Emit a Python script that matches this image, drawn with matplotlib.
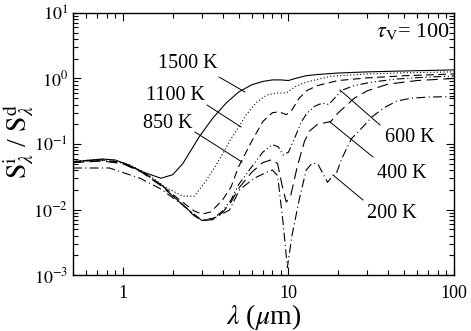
import matplotlib
matplotlib.use("Agg")
import matplotlib.pyplot as plt
from matplotlib.ticker import LogLocator, FixedLocator, NullFormatter, FixedFormatter

plt.rcParams['font.family'] = ['Liberation Serif', 'DejaVu Serif']
plt.rcParams['mathtext.fontset'] = 'stix'

# wavelength (micron) and S^i/S^d ratio for each dust temperature
x1500 = [0.5, 0.6, 0.75, 0.9, 1.1, 1.3, 1.7, 2.0, 2.3, 2.9, 3.5, 4.2, 5.0, 6.0, 7.0, 8.0, 9.0, 10.0, 11.0, 12.8, 15, 20, 30, 50, 100]
y1500 = [0.053, 0.056, 0.059, 0.057, 0.047, 0.038, 0.030, 0.034, 0.05, 0.13, 0.25, 0.42, 0.62, 0.80, 0.90, 0.95, 0.95, 0.93, 1.0, 1.10, 1.15, 1.21, 1.26, 1.30, 1.35]

x1100 = [0.5, 0.75, 0.9, 1.1, 1.4, 1.8, 2.3, 2.7, 3.1, 3.5, 4.0, 4.5, 5.0, 5.5, 6.4, 7.4, 8.5, 9.7, 11.0, 12.8, 18, 30, 50, 100]
y1100 = [0.055, 0.058, 0.056, 0.048, 0.035, 0.022, 0.016, 0.016, 0.025, 0.04, 0.07, 0.12, 0.18, 0.27, 0.43, 0.56, 0.60, 0.60, 0.75, 0.88, 1.08, 1.17, 1.22, 1.26]

x850 = [0.5, 0.75, 1.0, 1.3, 1.7, 2.2, 2.7, 3.0, 3.4, 4.0, 4.5, 5.0, 6.0, 7.0, 8.0, 8.8, 9.7, 10.5, 11.6, 13, 15, 20, 30, 50, 100]
y850 = [0.054, 0.057, 0.052, 0.038, 0.024, 0.014, 0.0095, 0.0085, 0.0092, 0.014, 0.022, 0.045, 0.11, 0.22, 0.30, 0.31, 0.28, 0.33, 0.50, 0.66, 0.78, 0.93, 1.02, 1.10, 1.17]

x600 = [0.5, 0.75, 1.0, 1.3, 1.7, 2.2, 2.7, 3.0, 3.5, 4.0, 4.5, 5.0, 6.0, 7.0, 8.0, 8.7, 9.3, 10.0, 11.0, 12.0, 13.0, 14.5, 16.0, 17.5, 19.0, 21, 25, 32, 45, 65, 100]
y600 = [0.053, 0.056, 0.051, 0.038, 0.024, 0.013, 0.0082, 0.0068, 0.0072, 0.0095, 0.014, 0.024, 0.045, 0.075, 0.098, 0.09, 0.068, 0.075, 0.13, 0.22, 0.30, 0.38, 0.42, 0.40, 0.50, 0.66, 0.78, 0.88, 0.98, 1.04, 1.09]

x400 = [0.5, 0.75, 1.0, 1.3, 1.7, 2.2, 2.7, 3.0, 3.5, 4.0, 4.5, 5.0, 6.0, 7.0, 8.0, 8.6, 9.2, 9.7, 10.3, 11.3, 12.5, 13.5, 15, 16.5, 18, 20, 25, 30, 40, 60, 100]
y400 = [0.052, 0.055, 0.050, 0.037, 0.023, 0.013, 0.0080, 0.0068, 0.0070, 0.0090, 0.013, 0.021, 0.037, 0.052, 0.058, 0.05, 0.022, 0.013, 0.016, 0.045, 0.11, 0.16, 0.20, 0.21, 0.22, 0.30, 0.50, 0.65, 0.82, 0.93, 1.0]

x200 = [0.5, 0.83, 1.27, 1.67, 2.3, 3.0, 3.6, 4.4, 5.07, 6.2, 7.4, 8.0, 8.6, 9.3, 9.85, 10.5, 11.6, 12.8, 13.9, 15.0, 16.2, 17.2, 18.4, 19.5, 21, 24, 28, 32, 38, 45, 55, 70, 100]
y200 = [0.043, 0.043, 0.030, 0.021, 0.0118, 0.0068, 0.0075, 0.0098, 0.020, 0.030, 0.037, 0.040, 0.033, 0.006, 0.0013, 0.004, 0.014, 0.040, 0.051, 0.050, 0.035, 0.026, 0.032, 0.036, 0.06, 0.12, 0.18, 0.26, 0.36, 0.45, 0.50, 0.52, 0.53]

temps = ['1500 K', '1100 K', '850 K', '600 K', '400 K', '200 K']

fig = plt.figure(figsize=(4.71, 3.31), dpi=100)
ax = fig.add_axes([0.155, 0.169, 0.809, 0.792])

lw = 0.8
ax.plot(x1500, y1500, color='black', lw=lw, linestyle='-')
ax.plot(x1100, y1100, color='black', lw=lw, linestyle=(0, (1, 2)))
ax.plot(x850, y850, color='black', lw=lw, linestyle=(0, (7, 4)))
ax.plot(x600, y600, color='black', lw=lw, linestyle=(0, (7, 2.5, 1, 2.5, 1, 2.5)))
ax.plot(x400, y400, color='black', lw=lw, linestyle=(0, (10, 5)))
ax.plot(x200, y200, color='black', lw=lw, linestyle=(0, (8, 3, 1, 3)))

ax.set_xscale('log')
ax.set_yscale('log')
ax.set_xlim(0.5, 100)
ax.set_ylim(1e-3, 10)

ax.xaxis.set_major_locator(FixedLocator([1, 10, 100]))
ax.xaxis.set_major_formatter(FixedFormatter(['1', '10', '100']))
ax.xaxis.set_minor_locator(LogLocator(base=10, subs=range(2, 10)))
ax.xaxis.set_minor_formatter(NullFormatter())
ax.yaxis.set_major_locator(FixedLocator([1e-3, 1e-2, 1e-1, 1, 10]))
ax.yaxis.set_major_formatter(FixedFormatter([r'$10^{-3}$', r'$10^{-2}$', r'$10^{-1}$', r'$10^{0}$', r'$10^{1}$']))
ax.yaxis.set_minor_locator(LogLocator(base=10, subs=range(2, 10)))
ax.yaxis.set_minor_formatter(NullFormatter())

ax.tick_params(which='both', direction='in', top=True, right=True, labelsize=13, width=0.8)
ax.tick_params(axis='x', which='major', pad=7)
ax.tick_params(which='major', length=6)
ax.tick_params(which='minor', length=3.5)
for s in ax.spines.values():
    s.set_linewidth(1.0)

ax.set_xlabel(r'$\lambda$ ($\mu$m)', fontsize=20, labelpad=0)
ax.set_ylabel(r'$\mathrm{S}^{\mathrm{i}}_{\lambda}$ / $\mathrm{S}^{\mathrm{d}}_{\lambda}$', fontsize=20)
ax.yaxis.set_label_coords(-0.098, 0.51)

ax.text(0.99, 0.93, r'$\tau_{\mathrm{V}}$= 100', transform=ax.transAxes, ha='right', va='center', fontsize=16)

def fig_to_data(px, py):
    # convert figure pixel (from top-left) to data coords
    disp = (px, 331 - py)
    return ax.transData.inverted().transform(disp)

fig.canvas.draw()
labels = [
    (temps[0], (188, 63), (219, 77), (245, 92)),
    (temps[1], (175, 95), (207, 105), (241, 127)),
    (temps[2], (168, 123), (195, 132), (242, 162)),
    (temps[3], (410, 137), (380, 125), (340, 90)),
    (temps[4], (402, 174), (373, 157), (330, 122)),
    (temps[5], (392, 213), (363, 200), (333, 175)),
]
for txt, tpos, p0, p1 in labels:
    tx, ty = fig_to_data(*tpos)
    ax.text(tx, ty, txt, ha='center', va='center', fontsize=14.5)
    a = fig_to_data(*p0)
    b = fig_to_data(*p1)
    ax.plot([a[0], b[0]], [a[1], b[1]], color='black', lw=0.7)

fig.savefig('out.png', dpi=100)
